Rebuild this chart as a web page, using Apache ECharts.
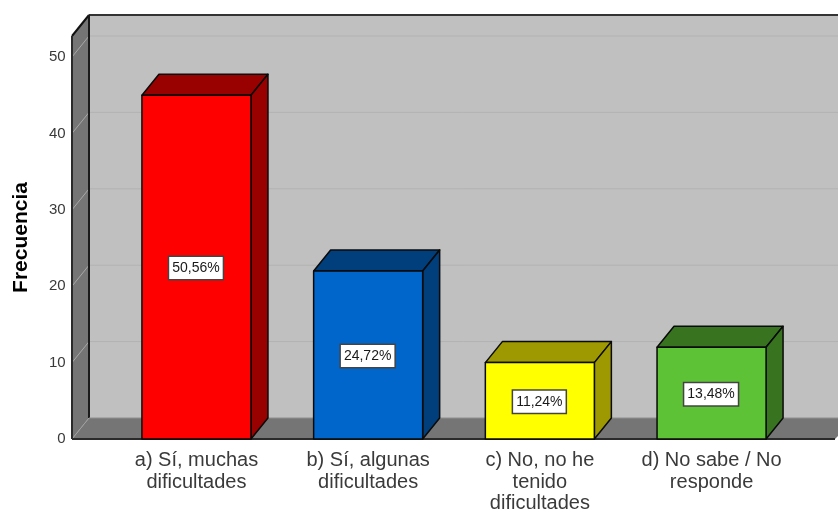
<!DOCTYPE html>
<html><head><meta charset="utf-8">
<style>html,body{margin:0;padding:0;background:#fff}#c{width:838px;height:513px}</style>
<script src="https://cdn.jsdelivr.net/npm/echarts@6/dist/echarts.min.js"></script>
</head><body><div id="c"></div>
<script>
const categories = ['a) Sí, muchas\ndificultades','b) Sí, algunas\ndificultades','c) No, no he\ntenido\ndificultades','d) No sabe / No\nresponde'];
const frequencies = [45, 22, 10, 12];
const percentLabels = ['50,56%','24,72%','11,24%','13,48%'];
const frontColors = ['#ff0000','#0066cc','#ffff00','#5ec236'];
const sideColors = ['#990000','#003e7c','#9e9900','#387420'];
const wallTicks = [0,10,20,30,40,50];
const yMax = 52.75;
const FONT = '"Liberation Sans", Arial, sans-serif';
const DX = 17, DY = 21;
const LEFT = 72, RIGHT = 838;

const chart = echarts.init(document.getElementById('c'), null, {renderer:'canvas'});

function renderWalls(params, api){
  const y0 = api.coord([0,0])[1];
  const yT = api.coord([0,yMax])[1];
  const kids = [];
  const poly = (pts, fill) => kids.push({type:'polygon', shape:{points:pts}, style:{fill}});
  const line = (x1,y1,x2,y2,stroke,w) => kids.push({type:'line', shape:{x1,y1,x2,y2}, style:{stroke, lineWidth:w||1}});
  poly([[LEFT+DX,yT-DY],[RIGHT,yT-DY],[RIGHT,y0-DY],[LEFT+DX,y0-DY]], '#c0c0c0');
  poly([[LEFT,yT],[LEFT+DX,yT-DY],[LEFT+DX,y0-DY],[LEFT,y0]], '#757575');
  poly([[LEFT,y0],[LEFT+DX,y0-DY],[RIGHT,y0-DY],[RIGHT,y0-3],[RIGHT-3,y0]], '#757575');
  wallTicks.slice(1).forEach(t => {
    const y = api.coord([0,t])[1];
    line(LEFT,y,LEFT+DX,y-DY,'#a8a8a8',1);
    line(LEFT+DX,y-DY,RIGHT,y-DY,'#b2b2b2',1);
  });
  line(LEFT,y0,LEFT+DX,y0-DY,'#a0a0a0',1);
  line(LEFT+DX,yT-DY,RIGHT,yT-DY,'#333333',2);
  line(LEFT,yT,LEFT+DX,yT-DY,'#111111',2);
  line(LEFT,yT,LEFT,y0,'#2a2a2a',2);
  line(LEFT+DX,yT-DY,LEFT+DX,y0-DY,'#1a1a1a',2);
  line(LEFT+DX,y0-DY,RIGHT,y0-DY,'#8f8f8f',1);
  line(LEFT,y0,RIGHT-3,y0,'#2a2a2a',2);
  return {type:'group', children:kids};
}

function renderBar(params, api){
  const i = api.value(0), v = api.value(1);
  const c = api.coord([i,v]), o = api.coord([i,0]);
  const w = api.size([1,0])[0]*0.635;
  const l = c[0]-w/2, r = c[0]+w/2, t = c[1], b = o[1];
  const st = fill => ({fill, stroke:'#0a0a0a', lineWidth:1.5, lineJoin:'round'});
  const mid = api.coord([i,v/2])[1];
  return {type:'group', children:[
    {type:'polygon', shape:{points:[[l,t],[l+DX,t-DY],[r+DX,t-DY],[r,t]]}, style:st(sideColors[i])},
    {type:'polygon', shape:{points:[[r,t],[r+DX,t-DY],[r+DX,b-DY],[r,b]]}, style:st(sideColors[i])},
    {type:'rect', shape:{x:l,y:t,width:w,height:b-t}, style:st(frontColors[i])},
    {type:'text', x:c[0]-0.5, y:mid+1, style:{text:percentLabels[i], fill:'#1a1a1a', font:'14px '+FONT, align:'center', verticalAlign:'middle',
      backgroundColor:'#fff', borderColor:'#444', borderWidth:1.5, padding:[4,3,4,3]}}
  ]};
}

chart.setOption({
  animation:false,
  backgroundColor:'#fff',
  grid:{left:110.6, width:686.8, top:36, height:403, outerBoundsMode:'none'},
  xAxis:{type:'category', data:categories, axisLine:{show:false}, axisTick:{show:false},
    axisLabel:{interval:0, margin:11, color:'#3a3a3a', fontFamily:FONT, fontSize:20, lineHeight:21.5}},
  yAxis:{type:'value', min:0, max:yMax, interval:10, name:'Frecuencia', nameLocation:'middle', nameGap:79,
    nameTextStyle:{color:'#000', fontFamily:FONT, fontWeight:'bold', fontSize:21},
    axisLine:{show:false}, axisTick:{show:false}, splitLine:{show:false},
    axisLabel:{showMaxLabel:false, margin:45, color:'#3a3a3a', fontFamily:FONT, fontSize:15, padding:[4,0,0,0]}},
  series:[
    {type:'custom', renderItem:renderWalls, data:[[0,0]], silent:true, z:1, encode:{x:0,y:1}},
    {type:'custom', renderItem:renderBar, data:frequencies.map((v,i)=>[i,v]), z:2, encode:{x:0,y:1}}
  ]
});
</script></body></html>
